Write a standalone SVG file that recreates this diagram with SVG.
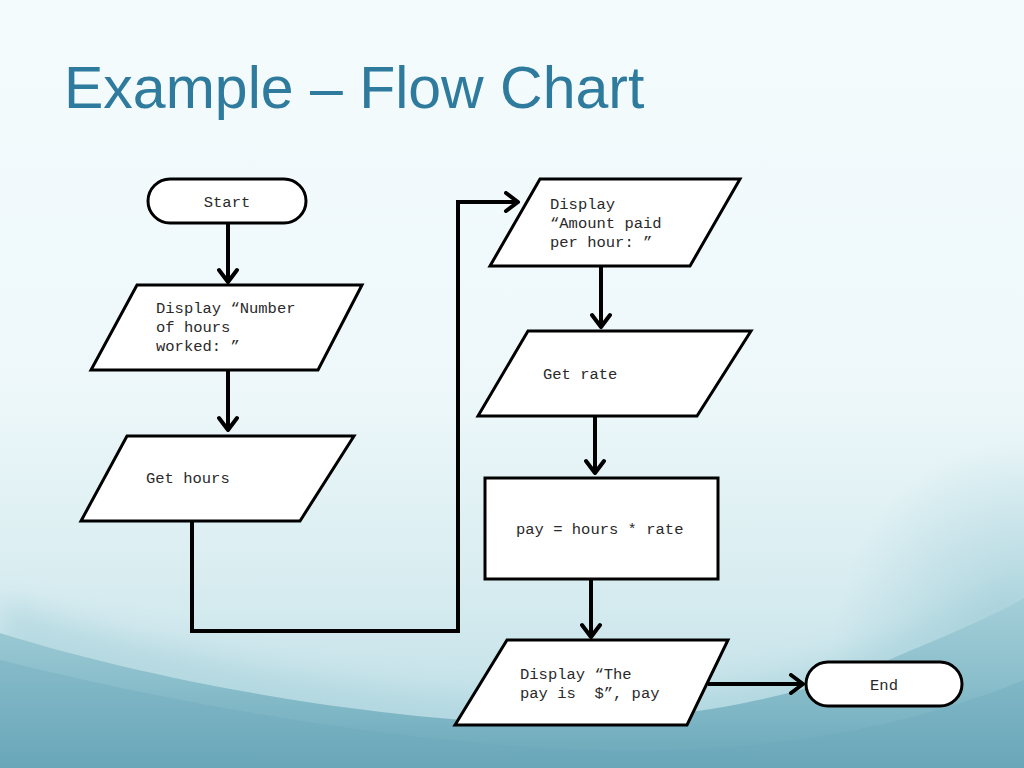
<svg xmlns="http://www.w3.org/2000/svg" width="1024" height="768" viewBox="0 0 1024 768">
<defs>
<linearGradient id="bg" x1="0" y1="0" x2="0" y2="1">
<stop offset="0" stop-color="#f4fbfd"/>
<stop offset="0.5" stop-color="#eef8fa"/>
<stop offset="0.75" stop-color="#d9edf1"/>
<stop offset="1" stop-color="#b9dce4"/>
</linearGradient>
<radialGradient id="side" cx="1" cy="0.75" r="0.45">
<stop offset="0" stop-color="#9ccbd6" stop-opacity="0.8"/>
<stop offset="1" stop-color="#9ccbd6" stop-opacity="0"/>
</radialGradient>
<linearGradient id="teal" x1="0" y1="590" x2="0" y2="768" gradientUnits="userSpaceOnUse">
<stop offset="0" stop-color="#a6d0d9"/>
<stop offset="0.5" stop-color="#8bbfcc"/>
<stop offset="1" stop-color="#69a7b9"/>
</linearGradient>
<filter id="soft" x="-0.1" y="-0.3" width="1.2" height="1.6">
<feGaussianBlur stdDeviation="14"/>
</filter>
<marker id="arr" viewBox="-15 -11 18 22" refX="0" refY="0" markerWidth="18" markerHeight="22" markerUnits="userSpaceOnUse" orient="auto">
<path d="M-12,-9 L0,0 L-12,9" fill="none" stroke="#000" stroke-width="4" stroke-linejoin="round" stroke-linecap="round"/>
</marker>
<style>
.node{fill:#fff;stroke:#000;stroke-width:3;stroke-linejoin:miter}
.lbl{font-family:"Liberation Mono","Courier New",monospace;font-size:15.5px;fill:#2a2a2a;white-space:pre}
.c{text-anchor:middle}
.conn{fill:none;stroke:#000;stroke-width:4;stroke-linejoin:miter}
.title{font-family:"Liberation Sans",Arial,sans-serif;font-size:59px;fill:#2f7b9d}
</style>
</defs>
<rect x="0" y="0" width="1024" height="768" fill="url(#bg)"/>
<rect x="600" y="300" width="424" height="468" fill="url(#side)"/>
<path d="M0,600 C150,650 350,690 500,698 C650,705 800,680 900,635 C960,610 1000,590 1024,575 L1024,768 L0,768 Z" fill="#a9d2dc" opacity="0.6" filter="url(#soft)"/>
<path d="M0,633 C150,680 350,715 500,722 C650,728 800,700 900,655 C960,630 1000,612 1024,598 L1024,768 L0,768 Z" fill="url(#teal)"/>
<path d="M0,660 C200,710 420,745 600,750 C760,754 900,730 1024,680 L1024,768 L0,768 Z" fill="#6aa7b9" opacity="0.3"/>
<text class="title" x="64" y="108">Example – Flow Chart</text>

<g id="connectors">
<line class="conn" x1="228" y1="223" x2="228" y2="282" marker-end="url(#arr)"/>
<line class="conn" x1="228" y1="370" x2="228" y2="430" marker-end="url(#arr)"/>
<polyline class="conn" points="192,521 192,631 458,631 458,202 518,202" marker-end="url(#arr)"/>
<line class="conn" x1="601" y1="266" x2="601" y2="327" marker-end="url(#arr)"/>
<line class="conn" x1="595" y1="416" x2="595" y2="473" marker-end="url(#arr)"/>
<line class="conn" x1="591" y1="579" x2="591" y2="637" marker-end="url(#arr)"/>
<line class="conn" x1="708" y1="684" x2="803" y2="684" marker-end="url(#arr)"/>
</g>

<g id="start">
<rect class="node" x="148" y="179" width="158" height="44" rx="22" ry="22"/>
<text class="lbl c" x="227" y="207">Start</text>
</g>
<g id="display-hours">
<polygon class="node" points="137,285 362,285 318,370 91,370"/>
<text class="lbl" x="156" y="313">Display “Number</text>
<text class="lbl" x="156" y="332">of hours</text>
<text class="lbl" x="156" y="351">worked: ”</text>
</g>
<g id="get-hours">
<polygon class="node" points="127,436 354,436 300,521 81,521"/>
<text class="lbl" x="146" y="483">Get hours</text>
</g>
<g id="display-rate">
<polygon class="node" points="540,179 740,179 690,266 490,266"/>
<text class="lbl" x="550" y="209">Display</text>
<text class="lbl" x="550" y="228">“Amount paid</text>
<text class="lbl" x="550" y="247">per hour: ”</text>
</g>
<g id="get-rate">
<polygon class="node" points="528,331 751,331 697,416 478,416"/>
<text class="lbl" x="543" y="379">Get rate</text>
</g>
<g id="compute">
<rect class="node" x="485" y="478" width="233" height="101"/>
<text class="lbl" x="516" y="534">pay = hours * rate</text>
</g>
<g id="display-pay">
<polygon class="node" points="507,640 728,640 687,725 455,725"/>
<text class="lbl" x="520" y="679">Display “The</text>
<text class="lbl" x="520" y="698">pay is  $”, pay</text>
</g>
<g id="end">
<rect class="node" x="806" y="662" width="156" height="44" rx="22" ry="22"/>
<text class="lbl c" x="884" y="690">End</text>
</g>
</svg>
